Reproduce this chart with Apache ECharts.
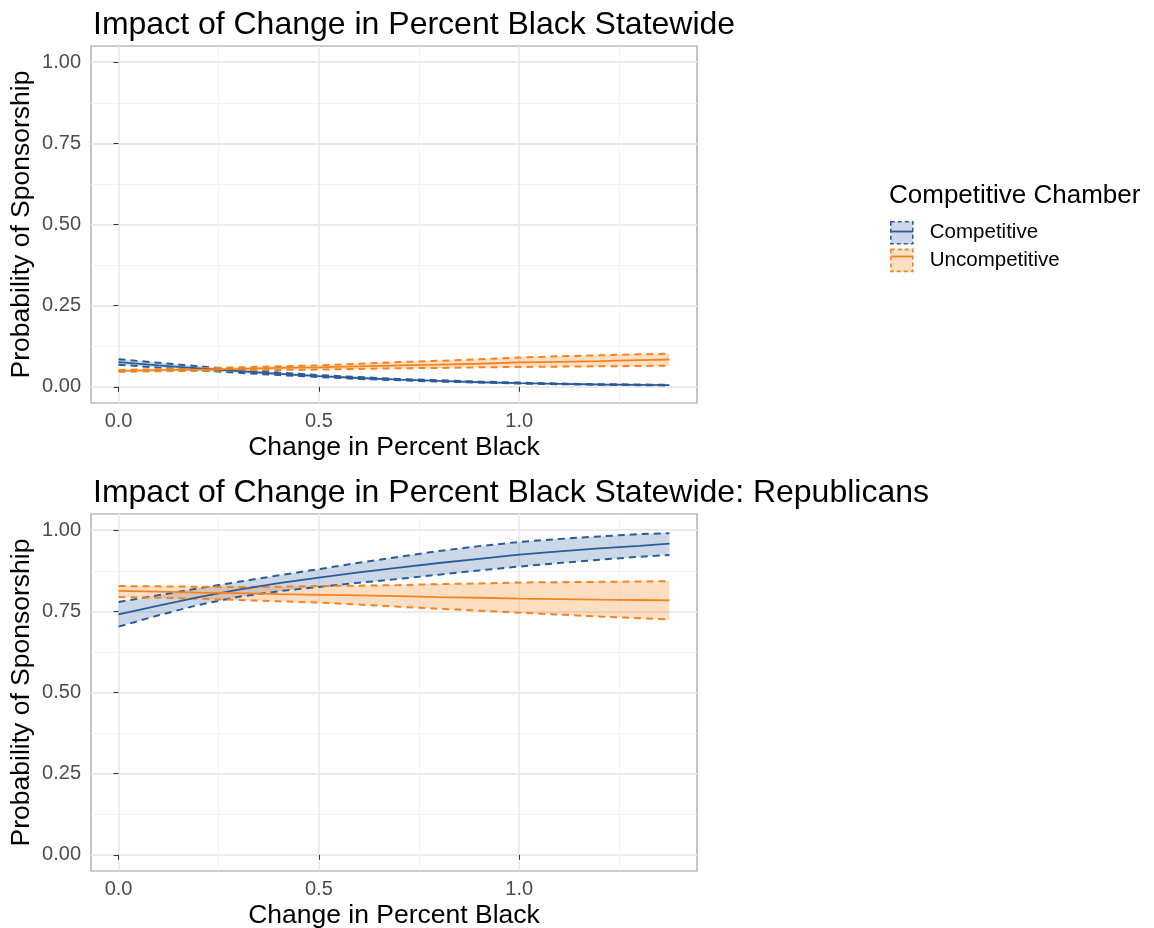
<!DOCTYPE html>
<html>
<head>
<meta charset="utf-8">
<script src="https://cdn.jsdelivr.net/npm/echarts@6/dist/echarts.min.js"></script>
<style>
  html, body { margin: 0; padding: 0; background: #ffffff; }
  #chart { width: 1154px; height: 928px; }
</style>
</head>
<body>
<div id="chart"></div>
<script>
// Predicted probability of sponsorship by change in percent Black,
// with confidence bands, for competitive and uncompetitive chambers.
const xValues = [0, 0.1, 0.2, 0.3, 0.4, 0.5, 0.6, 0.7, 0.8, 0.9, 1.0, 1.1, 1.2, 1.3, 1.375];

// Panel 1: all legislators
const allCompFit  = [0.076, 0.066, 0.057, 0.048, 0.040, 0.033, 0.027, 0.022, 0.018, 0.014, 0.011, 0.009, 0.007, 0.006, 0.005];
const allCompHigh = [0.085, 0.074, 0.063, 0.053, 0.044, 0.036, 0.030, 0.024, 0.020, 0.016, 0.013, 0.010, 0.008, 0.007, 0.006];
const allCompLow  = [0.068, 0.059, 0.051, 0.043, 0.036, 0.030, 0.024, 0.020, 0.016, 0.013, 0.010, 0.008, 0.006, 0.005, 0.004];
const allUncFit   = [0.049, 0.051, 0.053, 0.055, 0.058, 0.060, 0.063, 0.066, 0.068, 0.071, 0.075, 0.077, 0.079, 0.082, 0.084];
const allUncHigh  = [0.052, 0.054, 0.057, 0.060, 0.063, 0.066, 0.071, 0.076, 0.080, 0.085, 0.090, 0.094, 0.097, 0.100, 0.102];
const allUncLow   = [0.046, 0.048, 0.049, 0.050, 0.052, 0.053, 0.055, 0.057, 0.058, 0.060, 0.061, 0.062, 0.063, 0.064, 0.065];

// Panel 2: Republicans
const repCompFit  = [0.741, 0.768, 0.794, 0.817, 0.837, 0.854, 0.870, 0.885, 0.899, 0.912, 0.925, 0.935, 0.944, 0.952, 0.959];
const repCompHigh = [0.779, 0.800, 0.821, 0.841, 0.861, 0.880, 0.900, 0.918, 0.936, 0.951, 0.964, 0.973, 0.981, 0.988, 0.991];
const repCompLow  = [0.703, 0.738, 0.770, 0.795, 0.812, 0.825, 0.838, 0.850, 0.863, 0.876, 0.888, 0.899, 0.909, 0.918, 0.924];
const repUncFit   = [0.813, 0.811, 0.808, 0.806, 0.803, 0.801, 0.799, 0.797, 0.794, 0.792, 0.789, 0.788, 0.786, 0.785, 0.784];
const repUncHigh  = [0.828, 0.827, 0.826, 0.825, 0.826, 0.828, 0.829, 0.831, 0.834, 0.836, 0.839, 0.840, 0.841, 0.842, 0.843];
const repUncLow   = [0.794, 0.792, 0.789, 0.785, 0.781, 0.777, 0.771, 0.764, 0.758, 0.752, 0.746, 0.740, 0.734, 0.729, 0.725];

const groups = ['Competitive', 'Uncompetitive'];
const panelTitles = ['Impact of Change in Percent Black Statewide',
                     'Impact of Change in Percent Black Statewide: Republicans'];
const legendTitle = 'Competitive Chamber';
const xTitle = 'Change in Percent Black';
const yTitle = 'Probability of Sponsorship';

const xMajorTicks = [0, 0.5, 1.0];
const xMinorTicks = [0.25, 0.75, 1.25];
const yMajorTicks = [0, 0.25, 0.5, 0.75, 1.0];
const yMinorTicks = [0.125, 0.375, 0.625, 0.875];

const panels = [
  { Competitive: [allCompFit, allCompLow, allCompHigh], Uncompetitive: [allUncFit, allUncLow, allUncHigh] },
  { Competitive: [repCompFit, repCompLow, repCompHigh], Uncompetitive: [repUncFit, repUncLow, repUncHigh] }
];

const FONT = '"Liberation Sans", Arial, Helvetica, sans-serif';
const lineColor = { Competitive: '#2b5c99', Uncompetitive: '#f5841f' };
const bandColor = { Competitive: 'rgba(43,92,153,0.24)', Uncompetitive: 'rgba(245,132,31,0.27)' };

// Axis ranges padded by 5% on each side (x from data, y fixed 0..1)
const xLo = xValues[0], xHi = xValues[xValues.length - 1];
const xPad = 0.05 * (xHi - xLo);
const xMin = xLo - xPad, xMax = xHi + xPad;
const yMin = -0.05, yMax = 1.05;

const gridBoxes = [
  { left: 91, top: 46, width: 606, height: 357 },
  { left: 91, top: 514, width: 606, height: 357 }
];

const grids = [], xAxes = [], yAxes = [], series = [], titles = [];

gridBoxes.forEach((box, g) => {
  grids.push(Object.assign({ show: true, borderColor: '#9c9c9c', borderWidth: 1.2,
    backgroundColor: 'transparent', containLabel: false, outerBoundsMode: 'none' }, box));

  // major x axis: ticks, labels, major grid lines
  xAxes.push({
    type: 'value', gridIndex: g, min: xMin, max: xMax,
    axisLine: { show: false },
    axisTick: { show: true, customValues: xMajorTicks, length: 5, lineStyle: { color: '#333333', width: 1 } },
    axisLabel: { customValues: xMajorTicks, formatter: v => v.toFixed(1), color: '#4d4d4d',
      fontSize: 20, fontFamily: FONT, margin: 8 },
    splitLine: { show: true, lineStyle: { color: '#ebebeb', width: 1.8 } },
    name: xTitle, nameLocation: 'middle', nameGap: 31,
    nameTextStyle: { fontSize: 26.5, color: '#000', fontFamily: FONT }
  });
  // minor x grid lines
  xAxes.push({
    type: 'value', gridIndex: g, min: xMin, max: xMax,
    axisLine: { show: false }, axisLabel: { show: false },
    axisTick: { show: false, customValues: xMinorTicks },
    splitLine: { show: true, lineStyle: { color: '#f3f3f3', width: 1 } }
  });
  yAxes.push({
    type: 'value', gridIndex: g, min: yMin, max: yMax,
    axisLine: { show: false },
    axisTick: { show: true, customValues: yMajorTicks, length: 5, lineStyle: { color: '#333333', width: 1 } },
    axisLabel: { customValues: yMajorTicks, formatter: v => v.toFixed(2), color: '#4d4d4d',
      fontSize: 20, fontFamily: FONT, margin: 10 },
    splitLine: { show: true, lineStyle: { color: '#ebebeb', width: 1.8 } },
    name: yTitle, nameLocation: 'middle', nameGap: 56, nameRotate: 90, nameMoveOverlap: false,
    nameTextStyle: { fontSize: 26.5, color: '#000', fontFamily: FONT }
  });
  yAxes.push({
    type: 'value', gridIndex: g, min: yMin, max: yMax,
    axisLine: { show: false }, axisLabel: { show: false },
    axisTick: { show: false, customValues: yMinorTicks },
    splitLine: { show: true, lineStyle: { color: '#f3f3f3', width: 1 } }
  });

  titles.push({
    text: panelTitles[g], left: box.left - 3, top: box.top - 42,
    textStyle: { fontSize: 32, fontWeight: 'normal', color: '#000', fontFamily: FONT }
  });

  const xi = g * 2, yi = g * 2;
  groups.forEach(name => {
    const [fit, low, high] = panels[g][name];
    const pts = arr => arr.map((v, i) => [xValues[i], v]);
    // centre line first so the legend draws its icon from it
    series.push({
      type: 'line', name, xAxisIndex: xi, yAxisIndex: yi, data: pts(fit),
      symbol: 'none', z: 5,
      lineStyle: { color: lineColor[name], width: 1.8 }, itemStyle: { color: lineColor[name] }
    });
    // confidence ribbon drawn as one polygon between the bounds
    series.push({
      type: 'custom', name, xAxisIndex: xi, yAxisIndex: yi, data: pts(fit),
      encode: { x: 0, y: 1 }, silent: true, z: 2,
      itemStyle: { color: bandColor[name] },
      renderItem: (params, api) => {
        if (params.dataIndex !== 0) return null;
        const upper = high.map((v, i) => api.coord([xValues[i], v]));
        const lower = low.map((v, i) => api.coord([xValues[i], v])).reverse();
        return {
          type: 'polygon',
          shape: { points: upper.concat(lower) },
          style: { fill: bandColor[name], stroke: null }
        };
      }
    });
    // dashed bounds
    [low, high].forEach(bound => {
      series.push({
        type: 'line', name, xAxisIndex: xi, yAxisIndex: yi, data: pts(bound),
        symbol: 'none', silent: true, z: 4,
        lineStyle: { color: lineColor[name], width: 2, type: [7, 5] },
        itemStyle: { color: lineColor[name] }
      });
    });
  });
});

titles.push({
  text: legendTitle, left: 884, top: 178,
  textStyle: { fontSize: 26, fontWeight: 'normal', color: '#000', fontFamily: FONT }
});

const legendBase = {
  orient: 'vertical', left: 890, top: 221, padding: 0,
  itemWidth: 22, itemHeight: 22, itemGap: 4,
  selectedMode: false,
  textStyle: { fontSize: 20.5, color: '#000', fontFamily: FONT, padding: [0, 0, 0, 12] }
};

const legends = [
  // dashed box with ribbon fill
  Object.assign({}, legendBase, {
    data: groups.map(name => ({
      name, icon: 'rect',
      itemStyle: { color: bandColor[name], borderColor: lineColor[name], borderWidth: 1.6, borderType: [4, 3] }
    }))
  }),
  // solid centre line on top of each box
  Object.assign({}, legendBase, {
    data: groups.map(name => ({
      name,
      itemStyle: { color: 'transparent', borderColor: 'transparent', borderWidth: 0, opacity: 0 },
      lineStyle: { color: lineColor[name], width: 1.8, type: 'solid' }
    })),
    textStyle: Object.assign({}, legendBase.textStyle, { color: 'rgba(0,0,0,0)' })
  })
];

const chart = echarts.init(document.getElementById('chart'), null, { renderer: 'canvas' });
chart.setOption({
  backgroundColor: '#ffffff',
  animation: false,
  title: titles,
  legend: legends,
  grid: grids,
  xAxis: xAxes,
  yAxis: yAxes,
  series: series
});
</script>
</body>
</html>
